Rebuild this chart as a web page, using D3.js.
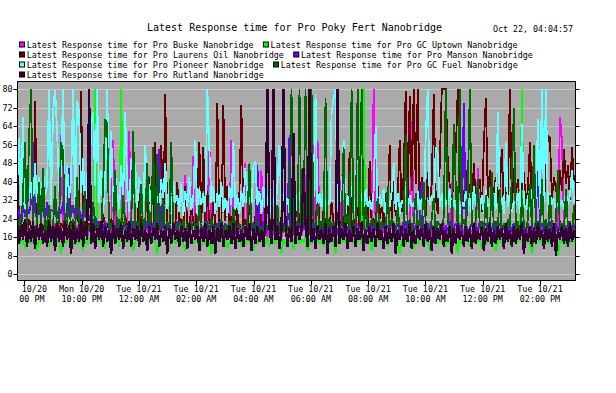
<!DOCTYPE html>
<html>
<head>
<meta charset="utf-8">
<script src="https://cdn.jsdelivr.net/npm/d3@7"></script>
<style>
  body { margin: 0; background: #fff; }
  text { font-family: "DejaVu Sans Mono", "Liberation Mono", monospace; fill: #000; }
</style>
</head>
<body>
<script>
'use strict';

// ---- data (one sample every ~4.2 minutes) ----
let title = 'Latest Response time for Pro Poky Fert Nanobridge';
let stamp = 'Oct 22, 04:04:57';

let seriesNames = [
    'Latest Response time for Pro Buske Nanobridge',
    'Latest Response time for Pro GC Uptown Nanobridge',
    'Latest Response time for Pro Laurens Oil Nanobridge',
    'Latest Response time for Pro Manson Nanobridge',
    'Latest Response time for Pro Pioneer Nanobridge',
    'Latest Response time for Pro GC Fuel Nanobridge',
    'Latest Response time for Pro Rutland Nanobridge'
];
let seriesColors = ['#ff00ff', '#00ff00', '#660000', '#6a00ff', '#66ffff', '#006600', '#330033'];
let seriesWidths = [1.8, 1.8, 1.8, 1.8, 1.8, 1.8, 2.3];

let startTime = new Date(2025, 9, 20, 19, 44, 42);
let endTime = new Date(2025, 9, 21, 15, 15, 24);

let buske = [
    18, 21, 16, 20, 17, 22, 19, 16, 21, 18, 20, 16, 22, 17, 19, 21, 16, 20, 18, 22,
    17, 19, 60, 21, 16, 20, 18, 22, 16, 19, 21, 17, 20, 18, 22, 16, 19, 21, 17, 20,
    18, 22, 16, 19, 21, 17, 20, 18, 58, 22, 16, 19, 21, 50, 17, 20, 62, 18, 22, 16,
    19, 21, 17, 20, 18, 22, 16, 19, 21, 17, 20, 18, 22, 16, 19, 21, 17, 20, 18, 22,
    16, 19, 21, 17, 43, 20, 18, 22, 51, 19, 21, 17, 20, 18, 22, 16, 58, 21, 17, 20,
    18, 22, 16, 19, 21, 17, 20, 58, 18, 22, 16, 19, 21, 17, 48, 20, 18, 22, 16, 19,
    21, 17, 45, 18, 22, 16, 19, 21, 17, 20, 18, 22, 16, 19, 21, 17, 20, 18, 22, 16,
    19, 21, 17, 20, 43, 18, 22, 16, 56, 19, 58, 21, 17, 20, 18, 22, 16, 19, 21, 17,
    20, 18, 43, 22, 16, 19, 21, 17, 20, 18, 22, 16, 19, 21, 17, 20, 18, 22, 80, 19,
    21, 17, 20, 18, 22, 16, 19, 21, 17, 20, 18, 22, 16, 19, 21, 17, 20, 66, 18, 22,
    16, 19, 21, 17, 20, 18, 22, 16, 19, 21, 17, 20, 18, 22, 16, 19, 21, 40, 17, 20,
    18, 22, 16, 19, 21, 17, 20, 18, 22, 16, 46, 19, 21, 17, 20, 18, 22, 16, 19, 21,
    17, 20, 18, 22, 16, 19, 21, 17, 20, 18, 22, 16, 19, 21, 17, 20, 18, 22, 16, 19,
    21, 17, 20, 18, 22, 16, 19, 21, 17, 20, 18, 68, 58, 19, 21, 17, 20, 18, 22, 16
];

let gcUptown = [
    14, 15, 13, 16, 11, 14, 15, 13, 16, 14, 10, 15, 13, 16, 14, 15, 12, 14, 16, 13,
    15, 14, 9, 16, 13, 15, 14, 16, 12, 15, 13, 14, 16, 10, 15, 13, 16, 14, 15, 80,
    14, 16, 13, 15, 11, 14, 16, 13, 15, 14, 16, 12, 80, 15, 13, 16, 14, 15, 10, 14,
    16, 13, 15, 14, 16, 12, 15, 13, 16, 14, 9, 15, 13, 16, 14, 15, 11, 14, 16, 13,
    15, 14, 16, 13, 10, 15, 14, 16, 13, 15, 14, 16, 12, 15, 13, 16, 14, 9, 15, 13,
    16, 14, 15, 13, 16, 11, 14, 15, 13, 16, 14, 15, 12, 16, 13, 15, 14, 16, 10, 15,
    13, 16, 14, 15, 13, 16, 12, 14, 15, 13, 16, 14, 9, 15, 13, 16, 14, 15, 11, 14,
    16, 13, 15, 14, 16, 10, 15, 13, 16, 14, 15, 13, 16, 12, 14, 15, 13, 16, 14, 9,
    15, 13, 16, 14, 15, 12, 14, 16, 13, 15, 14, 16, 13, 80, 15, 14, 16, 10, 15, 13,
    16, 14, 15, 13, 16, 12, 15, 14, 16, 13, 15, 9, 14, 16, 13, 15, 14, 16, 11, 15,
    13, 16, 14, 15, 13, 16, 10, 15, 14, 16, 13, 15, 14, 16, 12, 15, 13, 16, 14, 15,
    9, 16, 13, 15, 14, 16, 12, 15, 13, 16, 14, 15, 11, 16, 13, 15, 14, 16, 13, 10,
    15, 14, 16, 13, 15, 14, 16, 12, 15, 13, 16, 14, 80, 15, 13, 16, 14, 9, 15, 13,
    16, 14, 15, 11, 16, 13, 15, 14, 16, 13, 8, 15, 14, 16, 12, 15, 13, 16, 14, 15
];

let laurensOil = [
    71, 20, 23, 18, 22, 19, 24, 20, 18, 75, 21, 18, 23, 19, 22, 18, 24, 20, 21, 19,
    23, 18, 22, 20, 25, 19, 21, 23, 18, 22, 28, 20, 79, 19, 23, 18, 22, 20, 24, 19,
    21, 23, 18, 26, 20, 22, 19, 24, 21, 18, 23, 20, 22, 19, 25, 21, 18, 24, 20, 22,
    19, 35, 21, 18, 23, 20, 42, 22, 19, 57, 21, 24, 56, 20, 78, 22, 19, 34, 23, 20,
    40, 21, 24, 19, 38, 22, 20, 29, 23, 19, 33, 57, 22, 55, 20, 36, 23, 21, 31, 20,
    74, 22, 20, 73, 23, 38, 19, 25, 22, 31, 20, 35, 73, 21, 24, 19, 30, 22, 20, 25,
    22, 37, 20, 23, 19, 31, 21, 24, 20, 28, 22, 19, 24, 33, 20, 23, 29, 19, 22, 24,
    34, 20, 25, 21, 23, 30, 19, 24, 22, 20, 36, 23, 19, 28, 21, 24, 20, 31, 22, 19,
    27, 21, 23, 20, 32, 22, 53, 19, 24, 21, 29, 20, 23, 22, 27, 19, 49, 21, 24, 20,
    38, 24, 29, 22, 35, 26, 56, 23, 41, 25, 33, 58, 27, 44, 79, 31, 77, 36, 80, 39,
    80, 28, 42, 35, 25, 44, 30, 39, 78, 33, 26, 47, 80, 80, 80, 49, 38, 29, 45, 53,
    80, 35, 42, 28, 45, 33, 39, 26, 48, 31, 37, 41, 27, 56, 76, 33, 45, 29, 36, 42,
    31, 38, 54, 27, 40, 33, 80, 29, 46, 35, 41, 28, 38, 44, 30, 37, 57, 33, 41, 29,
    48, 35, 39, 31, 44, 60, 59, 33, 42, 37, 30, 45, 36, 54, 39, 47, 32, 55, 40, 43
];

let manson = [
    24, 28, 22, 30, 25, 29, 26, 31, 57, 27, 24, 30, 26, 29, 23, 31, 25, 28, 27, 30,
    24, 29, 26, 31, 23, 28, 46, 25, 30, 24, 27, 29, 22, 28, 25, 26, 23, 27, 21, 25,
    22, 18, 21, 19, 23, 17, 20, 22, 18, 21, 19, 23, 17, 20, 22, 18, 21, 19, 23, 17,
    20, 22, 18, 21, 19, 23, 17, 20, 22, 18, 21, 54, 19, 23, 17, 20, 22, 18, 21, 19,
    23, 17, 20, 22, 18, 21, 19, 23, 17, 20, 22, 18, 21, 19, 23, 17, 20, 22, 18, 21,
    19, 23, 17, 20, 22, 18, 21, 19, 23, 17, 20, 22, 18, 21, 19, 23, 17, 20, 22, 18,
    47, 21, 19, 23, 17, 20, 22, 18, 21, 19, 23, 17, 20, 22, 18, 21, 60, 19, 23, 17,
    20, 22, 18, 21, 19, 23, 17, 20, 22, 18, 21, 19, 23, 17, 20, 22, 18, 21, 19, 23,
    17, 20, 22, 18, 21, 19, 23, 17, 20, 22, 18, 21, 19, 23, 17, 20, 22, 18, 21, 19,
    23, 17, 20, 22, 18, 21, 19, 23, 17, 20, 22, 18, 21, 19, 23, 17, 20, 22, 18, 21,
    19, 23, 40, 17, 20, 22, 18, 21, 19, 23, 17, 20, 22, 18, 21, 19, 23, 17, 20, 22,
    18, 21, 19, 74, 23, 17, 20, 22, 18, 21, 19, 23, 17, 20, 22, 18, 21, 19, 23, 17,
    20, 22, 18, 21, 19, 23, 17, 20, 22, 18, 21, 19, 23, 17, 20, 22, 18, 21, 19, 23,
    53, 20, 22, 18, 21, 19, 23, 17, 20, 22, 18, 21, 19, 23, 17, 20, 22, 18, 21, 19
];

let pioneer = [
    36, 59, 30, 68, 28, 44, 33, 40, 29, 48, 31, 42, 27, 46, 34, 38, 80, 30, 70, 80,
    62, 36, 44, 80, 29, 47, 33, 41, 80, 30, 75, 70, 35, 50, 28, 44, 32, 64, 70, 38,
    80, 31, 45, 27, 40, 80, 34, 62, 29, 43, 36, 28, 47, 32, 70, 38, 27, 50, 33, 48,
    29, 42, 35, 27, 56, 31, 39, 26, 44, 30, 36, 27, 41, 33, 48, 28, 37, 26, 40, 31,
    34, 27, 39, 25, 36, 29, 42, 28, 33, 58, 26, 37, 30, 35, 27, 80, 54, 31, 38, 26,
    35, 29, 40, 27, 33, 25, 38, 30, 57, 28, 34, 26, 36, 29, 46, 31, 45, 28, 47, 49,
    30, 36, 26, 38, 29, 34, 25, 37, 31, 28, 39, 56, 27, 35, 30, 33, 26, 40, 29, 35,
    27, 36, 30, 33, 25, 38, 28, 34, 31, 78, 26, 35, 29, 37, 27, 32, 30, 69, 76, 80,
    28, 36, 31, 58, 26, 34, 29, 38, 27, 33, 63, 30, 35, 26, 37, 29, 32, 28, 36, 64,
    27, 34, 30, 37, 25, 33, 29, 36, 48, 28, 35, 26, 32, 30, 38, 27, 34, 29, 31, 26,
    36, 28, 33, 25, 60, 80, 30, 34, 27, 55, 52, 29, 35, 26, 33, 30, 37, 27, 32, 28,
    35, 26, 31, 29, 36, 27, 33, 25, 38, 30, 32, 28, 34, 26, 37, 29, 31, 27, 35, 28,
    70, 30, 33, 26, 57, 29, 36, 27, 32, 30, 35, 26, 65, 31, 28, 34, 27, 37, 29, 33,
    67, 28, 80, 31, 80, 27, 35, 30, 33, 26, 38, 29, 32, 28, 36, 30, 34, 45, 31, 33
];

let gcFuel = [
    20, 24, 17, 35, 57, 19, 59, 80, 22, 17, 23, 40, 19, 46, 17, 22, 30, 18, 21, 38,
    18, 23, 57, 53, 17, 22, 33, 19, 24, 17, 42, 20, 17, 23, 36, 18, 21, 17, 31, 22,
    17, 23, 19, 38, 67, 65, 18, 22, 20, 45, 17, 24, 19, 34, 21, 17, 23, 19, 62, 17,
    23, 20, 39, 17, 22, 48, 19, 24, 55, 17, 52, 21, 18, 32, 17, 23, 20, 57, 18, 22,
    17, 23, 19, 24, 17, 21, 18, 23, 16, 22, 19, 30, 17, 20, 18, 23, 17, 24, 20, 16,
    22, 18, 24, 16, 21, 19, 23, 17, 29, 20, 16, 22, 18, 21, 17, 24, 48, 19, 22, 16,
    23, 18, 20, 17, 24, 19, 22, 16, 21, 20, 30, 17, 22, 18, 24, 19, 21, 80, 17, 23,
    20, 80, 18, 24, 80, 21, 17, 80, 22, 19, 31, 18, 23, 20, 76, 17, 24, 21, 22, 18,
    24, 20, 22, 55, 17, 26, 19, 80, 21, 18, 80, 23, 80, 19, 30, 21, 17, 24, 22, 20,
    33, 18, 23, 21, 17, 38, 19, 24, 22, 17, 29, 20, 18, 23, 60, 20, 24, 17, 22, 35,
    19, 24, 18, 40, 22, 20, 17, 24, 33, 17, 23, 21, 18, 25, 80, 22, 20, 17, 65, 38,
    19, 80, 20, 24, 18, 36, 80, 22, 17, 24, 41, 20, 23, 18, 34, 21, 17, 44, 19, 23,
    20, 37, 18, 22, 17, 24, 20, 43, 72, 19, 23, 17, 33, 22, 18, 24, 39, 20, 56, 19,
    23, 17, 41, 20, 24, 18, 34, 21, 17, 24, 45, 19, 22, 18, 37, 20, 23, 17, 30, 21
];

let rutland = [
    22, 13, 21, 15, 24, 12, 20, 14, 23, 11, 21, 15, 22, 13, 19, 12, 23, 14, 21, 10,
    22, 14, 20, 12, 23, 15, 21, 9, 22, 13, 20, 14, 24, 12, 21, 15, 80, 13, 22, 11,
    20, 15, 23, 12, 21, 14, 19, 9, 22, 13, 20, 15, 22, 11, 19, 14, 23, 12, 20, 15,
    21, 12, 22, 14, 19, 10, 21, 13, 20, 15, 22, 12, 19, 14, 21, 9, 20, 13, 22, 15,
    19, 12, 21, 14, 20, 11, 22, 13, 19, 15, 21, 10, 20, 14, 22, 12, 19, 13, 21, 9,
    20, 14, 22, 12, 19, 15, 21, 13, 22, 11, 20, 14, 19, 12, 21, 15, 22, 10, 20, 13,
    21, 14, 19, 12, 22, 80, 20, 13, 80, 15, 21, 11, 19, 80, 22, 12, 20, 14, 61, 13,
    21, 15, 19, 46, 22, 12, 80, 14, 20, 11, 21, 15, 19, 13, 22, 9, 20, 14, 21, 12,
    80, 13, 20, 15, 22, 11, 19, 14, 21, 12, 20, 15, 22, 10, 19, 13, 21, 14, 20, 12,
    22, 15, 19, 11, 21, 13, 20, 14, 22, 9, 19, 15, 21, 12, 20, 14, 22, 11, 19, 13,
    21, 15, 20, 12, 22, 14, 19, 10, 21, 13, 20, 15, 22, 12, 19, 14, 21, 9, 20, 13,
    22, 15, 19, 12, 21, 14, 20, 11, 22, 13, 19, 15, 21, 10, 20, 14, 22, 12, 19, 13,
    21, 15, 20, 11, 22, 14, 19, 12, 21, 13, 20, 15, 22, 9, 19, 14, 21, 12, 20, 13,
    22, 15, 19, 11, 21, 14, 20, 12, 22, 8, 19, 15, 21, 13, 20, 12, 22, 14, 19, 15
];

let yTicks = [0, 8, 16, 24, 32, 40, 48, 56, 64, 72, 80];
let xTicks = [
    new Date(2025, 9, 20, 20), new Date(2025, 9, 20, 22), new Date(2025, 9, 21, 0),
    new Date(2025, 9, 21, 2), new Date(2025, 9, 21, 4), new Date(2025, 9, 21, 6),
    new Date(2025, 9, 21, 8), new Date(2025, 9, 21, 10), new Date(2025, 9, 21, 12),
    new Date(2025, 9, 21, 14)
];

let allSeries = [buske, gcUptown, laurensOil, manson, pioneer, gcFuel, rutland];

// ---- layout ----
let w = 616, h = 393;
let pLeft = 17, pRight = 576, pTop = 81, pBottom = 281;

let svg = d3.select('body')
    .append('svg')
    .attr('width', w)
    .attr('height', h);

let x = d3.scaleTime()
    .domain([startTime, endTime])
    .range([pLeft, pRight]);

let y = d3.scaleLinear()
    .domain([0, 80])
    .range([274.3, 89]);

let step = (endTime - startTime) / (buske.length - 1);
let timeAt = (i) => new Date(+startTime + i * step);

// title + stamp
svg.append('text')
    .attr('x', 294.5)
    .attr('y', 30.5)
    .attr('text-anchor', 'middle')
    .attr('font-size', '10px')
    .text(title);

svg.append('text')
    .attr('x', 493)
    .attr('y', 32)
    .attr('font-size', '8.3px')
    .text(stamp);

// legend: two per row
let charW = 5.06;
let legendRows = [[0, 1], [2, 3], [4, 5], [6]];
legendRows.forEach((row, r) => {
    let cy = 44.5 + r * 10;
    let lx = 19.5;
    row.forEach((k) => {
        svg.append('rect')
            .attr('x', lx)
            .attr('y', cy - 2.5)
            .attr('width', 5)
            .attr('height', 5)
            .attr('fill', seriesColors[k])
            .attr('stroke', '#000')
            .attr('stroke-width', 1);
        svg.append('text')
            .attr('x', lx + 7.2)
            .attr('y', cy + 3)
            .attr('font-size', '8.4px')
            .text(seriesNames[k]);
        lx = lx + 7.2 + seriesNames[k].length * charW + 9;
    });
});

// plot background
svg.append('rect')
    .attr('x', pLeft)
    .attr('y', pTop)
    .attr('width', pRight - pLeft)
    .attr('height', pBottom - pTop)
    .attr('fill', '#aaaaaa');

svg.append('g')
    .selectAll('line')
    .data(yTicks)
    .enter()
    .append('line')
    .attr('x1', pLeft)
    .attr('x2', pRight)
    .attr('y1', (d) => Math.round(y(d)) + 0.5)
    .attr('y2', (d) => Math.round(y(d)) + 0.5)
    .attr('stroke', '#c8c8c8')
    .attr('stroke-width', 1);

svg.append('clipPath')
    .attr('id', 'plot')
    .append('rect')
    .attr('x', pLeft)
    .attr('y', pTop)
    .attr('width', pRight - pLeft)
    .attr('height', pBottom - pTop);

let line = d3.line()
    .x((d, i) => x(timeAt(i)))
    .y((d) => y(d));

svg.append('g')
    .attr('clip-path', 'url(#plot)')
    .selectAll('path')
    .data(allSeries)
    .enter()
    .append('path')
    .attr('d', (d) => line(d))
    .attr('fill', 'none')
    .attr('stroke', (d, i) => seriesColors[i])
    .attr('stroke-width', (d, i) => seriesWidths[i])
    .attr('stroke-linejoin', 'miter')
    .attr('stroke-miterlimit', 2)
    .attr('shape-rendering', 'crispEdges');

// frame
svg.append('rect')
    .attr('x', pLeft + 0.5)
    .attr('y', pTop + 0.5)
    .attr('width', pRight - pLeft - 1)
    .attr('height', pBottom - pTop - 1)
    .attr('fill', 'none')
    .attr('stroke', '#000')
    .attr('stroke-width', 1);

// y axis labels + ticks (left), ticks (right)
let yAxis = svg.append('g');
yAxis.selectAll('text')
    .data(yTicks)
    .enter()
    .append('text')
    .attr('x', 12.5)
    .attr('y', (d) => y(d) + 3)
    .attr('text-anchor', 'end')
    .attr('font-size', '8.4px')
    .text((d) => d);

yAxis.selectAll('line.l')
    .data(yTicks)
    .enter()
    .append('line')
    .attr('x1', 13.5)
    .attr('x2', pLeft)
    .attr('y1', (d) => Math.round(y(d)) + 0.5)
    .attr('y2', (d) => Math.round(y(d)) + 0.5)
    .attr('stroke', '#000');

yAxis.selectAll('line.r')
    .data(yTicks)
    .enter()
    .append('line')
    .attr('x1', pRight)
    .attr('x2', pRight + 3.5)
    .attr('y1', (d) => Math.round(y(d)) + 0.5)
    .attr('y2', (d) => Math.round(y(d)) + 0.5)
    .attr('stroke', '#000');

// x axis ticks + two-line labels
svg.append('clipPath')
    .attr('id', 'xlab')
    .append('rect')
    .attr('x', pLeft + 1)
    .attr('y', pBottom)
    .attr('width', w - pLeft)
    .attr('height', 40);

let fmtDay = d3.timeFormat('%a %m/%d');
let fmtHour = d3.timeFormat('%I:%M %p');

let xAxis = svg.append('g');
xAxis.selectAll('line')
    .data(xTicks)
    .enter()
    .append('line')
    .attr('x1', (d) => Math.round(x(d)) + 0.5)
    .attr('x2', (d) => Math.round(x(d)) + 0.5)
    .attr('y1', pBottom - 1)
    .attr('y2', pBottom + 4)
    .attr('stroke', '#000');

let xLabels = xAxis.append('g').attr('clip-path', 'url(#xlab)');
xLabels.selectAll('text.d')
    .data(xTicks)
    .enter()
    .append('text')
    .attr('x', (d) => x(d))
    .attr('y', 292)
    .attr('text-anchor', 'middle')
    .attr('font-size', '8.4px')
    .text((d) => fmtDay(d));

xLabels.selectAll('text.t')
    .data(xTicks)
    .enter()
    .append('text')
    .attr('x', (d) => x(d))
    .attr('y', 302)
    .attr('text-anchor', 'middle')
    .attr('font-size', '8.4px')
    .text((d) => fmtHour(d));
</script>
</body>
</html>
